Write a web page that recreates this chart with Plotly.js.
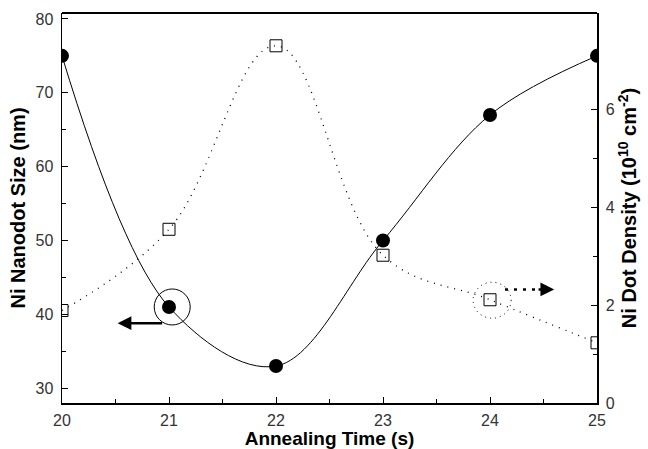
<!DOCTYPE html>
<html>
<head>
<meta charset="utf-8">
<script src="https://cdn.plot.ly/plotly-3.0.1.min.js"></script>
<style>html,body{margin:0;padding:0;background:#fff;}#chart{width:648px;height:449px;}</style>
</head>
<body>
<div id="chart"></div>
<script>
const annealingTime = [20, 21, 22, 23, 24, 25];
const nanodotSize = [75, 41, 33, 50, 67, 75];
const dotDensity = [1.89, 3.55, 7.3, 3.02, 2.11, 1.23];

const traces = [
  {
    x: annealingTime, y: nanodotSize, type: 'scatter', mode: 'lines+markers',
    line: {shape: 'spline', smoothing: 1.0, color: '#000', width: 1},
    marker: {symbol: 'circle', size: 14, color: '#000'},
    cliponaxis: true, yaxis: 'y', showlegend: false
  },
  {
    x: annealingTime, y: dotDensity, type: 'scatter', mode: 'lines+markers',
    line: {shape: 'spline', smoothing: 1.1, color: '#000', width: 1.3, dash: '1px,6px'},
    marker: {symbol: 'square-open', size: 12, color: '#000', line: {width: 1}},
    cliponaxis: true, yaxis: 'y2', showlegend: false
  }
];

const tickFont = {family: 'Liberation Sans, Arial, sans-serif', size: 16, color: '#333'};
const xTitleFont = {family: 'Liberation Sans, Arial, sans-serif', size: 19, color: '#000', weight: 'bold'};
const yTitleFont = {family: 'Liberation Sans, Arial, sans-serif', size: 20, color: '#000', weight: 'bold'};

const layout = {
  width: 648, height: 449,
  margin: {l: 62, r: 51, t: 13, b: 46},
  paper_bgcolor: '#fff', plot_bgcolor: '#fff',
  showlegend: false,
  xaxis: {
    range: [20, 25], dtick: 1, tick0: 20,
    ticks: 'inside', ticklen: 6, tickcolor: '#000', tickwidth: 1,
    minor: {dtick: 0.5, ticks: 'inside', ticklen: 4, tickcolor: '#000'},
    showline: true, linecolor: '#000', linewidth: 1.5, mirror: false,
    showgrid: false, zeroline: false,
    tickfont: tickFont, ticklabelstandoff: 2,
    title: {text: 'Annealing Time (s)', font: xTitleFont, standoff: 0}
  },
  yaxis: {
    range: [28, 80.8], dtick: 10, tick0: 30,
    ticks: 'inside', ticklen: 6, tickcolor: '#000',
    minor: {dtick: 5, ticks: 'inside', ticklen: 4, tickcolor: '#000'},
    showline: true, linecolor: '#000', linewidth: 1.5,
    showgrid: false, zeroline: false,
    tickfont: tickFont, ticklabelstandoff: 4,
    title: {text: 'Ni Nanodot Size (nm)', font: yTitleFont, standoff: 4}
  },
  yaxis2: {
    range: [0, 7.97], dtick: 2, tick0: 0, overlaying: 'y', side: 'right',
    ticks: 'inside', ticklen: 6, tickcolor: '#000',
    minor: {dtick: 1, ticks: 'inside', ticklen: 4, tickcolor: '#000'},
    showline: true, linecolor: '#000', linewidth: 1.5,
    showgrid: false, zeroline: false,
    tickfont: tickFont, ticklabelstandoff: 4,
    title: {text: 'Ni Dot Density (10<sup>10</sup> cm<sup>-2</sup>)', font: yTitleFont, standoff: 4}
  },
  shapes: [
    {type: 'line', xref: 'paper', yref: 'paper', x0: 0, x1: 1, y0: 1, y1: 1, line: {color: '#000', width: 2}},
    {type: 'circle', xref: 'x', yref: 'y', xsizemode: 'pixel', ysizemode: 'pixel',
     xanchor: 21.03, yanchor: 41, x0: -18, x1: 18, y0: -18, y1: 18, line: {color: '#000', width: 1}},
    {type: 'circle', xref: 'x', yref: 'y2', xsizemode: 'pixel', ysizemode: 'pixel',
     xanchor: 24.02, yanchor: 2.1, x0: -19, x1: 19, y0: -18, y1: 18, line: {color: '#000', width: 1, dash: '1px,4px'}},
    {type: 'line', xref: 'x', yref: 'y2', x0: 24.14, x1: 24.45, y0: 2.32, y1: 2.32, line: {color: '#000', width: 2.5, dash: '3px,6px'}}
  ],
  annotations: [
    {x: 20.52, y: 38.8, xref: 'x', yref: 'y', ax: 20.95, ay: 38.8, axref: 'x', ayref: 'y',
     showarrow: true, arrowhead: 2, arrowsize: 1.1, arrowwidth: 2.5, arrowcolor: '#000', text: ''},
    {x: 24.6, y: 2.32, xref: 'x', yref: 'y2', ax: 24.44, ay: 2.32, axref: 'x', ayref: 'y2',
     showarrow: true, arrowhead: 2, arrowsize: 1.1, arrowwidth: 2.5, arrowcolor: '#000', text: ''}
  ]
};

Plotly.newPlot('chart', traces, layout, {displayModeBar: false, staticPlot: true});
</script>
</body>
</html>
